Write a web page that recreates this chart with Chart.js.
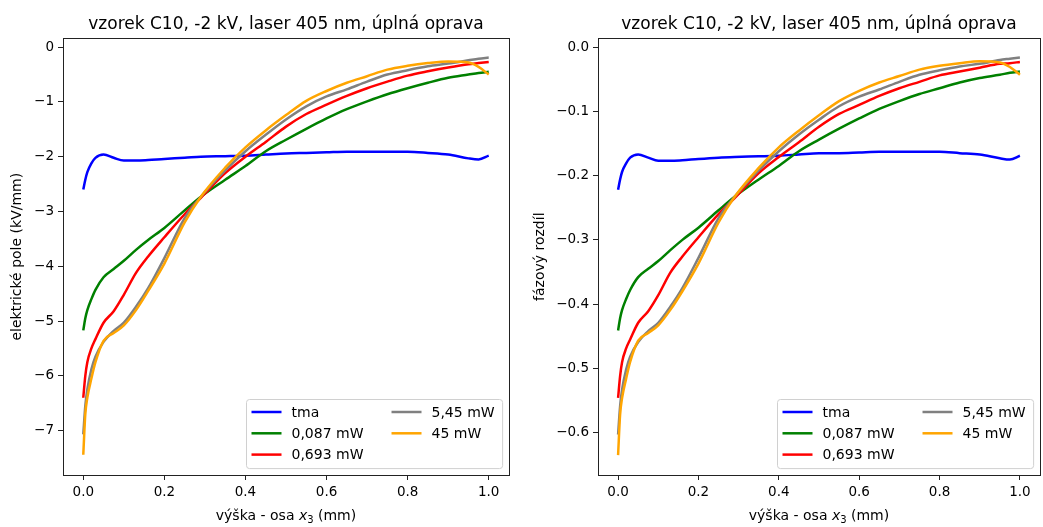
<!DOCTYPE html>
<html>
<head>
<meta charset="utf-8">
<script src="https://cdn.jsdelivr.net/npm/chart.js@4.4.0/dist/chart.umd.min.js"></script>
<style>
  html, body { margin: 0; padding: 0; background: #fff; }
  #wrap { position: relative; width: 1043px; height: 527px; overflow: hidden; }
  canvas { position: absolute; top: 0; }
  #poleChart { left: 0; }
  #fazeChart { left: 521px; }
</style>
</head>
<body>
<div id="wrap">
  <canvas id="poleChart" width="521" height="527"></canvas>
  <canvas id="fazeChart" width="522" height="527"></canvas>
</div>
<script>
// výška vzorku (mm)
const vyska = [0, 0.005, 0.01, 0.02, 0.03, 0.05, 0.075, 0.1, 0.13, 0.16, 0.2, 0.25, 0.29, 0.35,
               0.4, 0.45, 0.5, 0.55, 0.6, 0.65, 0.7, 0.75, 0.8, 0.85, 0.9, 0.95, 0.975, 1.0];

const popisky = ['tma', '0,087 mW', '0,693 mW', '5,45 mW', '45 mW'];
const barvy = ['#0000ff', '#008000', '#ff0000', '#808080', '#ffa500'];

// elektrické pole (kV/mm)
const poleTma = [-2.60, -2.42, -2.28, -2.12, -2.02, -1.96, -2.02, -2.07, -2.07, -2.06, -2.04, -2.02, -2.00, -1.99,
                 -1.98, -1.96, -1.94, -1.93, -1.92, -1.91, -1.91, -1.91, -1.91, -1.93, -1.96, -2.03, -2.05, -1.98];
const pole0087 = [-5.17, -4.95, -4.80, -4.60, -4.43, -4.20, -4.05, -3.90, -3.70, -3.52, -3.30, -2.98, -2.73, -2.42,
                  -2.17, -1.90, -1.69, -1.49, -1.30, -1.13, -0.99, -0.86, -0.75, -0.65, -0.56, -0.50, -0.47, -0.45];
const pole0693 = [-6.40, -6.00, -5.75, -5.50, -5.33, -5.03, -4.82, -4.52, -4.12, -3.82, -3.47, -3.05, -2.75, -2.30,
                  -2.00, -1.73, -1.45, -1.22, -1.05, -0.89, -0.75, -0.63, -0.52, -0.44, -0.37, -0.31, -0.29, -0.27];
const pole545 = [-7.07, -6.55, -6.25, -5.88, -5.65, -5.38, -5.18, -5.03, -4.74, -4.40, -3.85, -3.12, -2.73, -2.25,
                 -1.90, -1.60, -1.32, -1.08, -0.90, -0.77, -0.63, -0.50, -0.42, -0.35, -0.30, -0.24, -0.21, -0.19];
const pole45 = [-7.44, -6.70, -6.40, -6.05, -5.75, -5.36, -5.22, -5.08, -4.80, -4.45, -3.95, -3.20, -2.73, -2.20,
                -1.83, -1.52, -1.24, -0.98, -0.80, -0.65, -0.53, -0.41, -0.34, -0.29, -0.26, -0.28, -0.36, -0.50];

// fázový rozdíl
const fazeTma = [-0.222, -0.206, -0.194, -0.181, -0.172, -0.167, -0.172, -0.177, -0.177, -0.176, -0.174, -0.172, -0.171, -0.170,
                 -0.169, -0.167, -0.165, -0.165, -0.164, -0.163, -0.163, -0.163, -0.163, -0.165, -0.167, -0.173, -0.175, -0.169];
const faze0087 = [-0.441, -0.422, -0.409, -0.392, -0.378, -0.358, -0.345, -0.333, -0.316, -0.300, -0.281, -0.254, -0.233, -0.206,
                  -0.185, -0.162, -0.144, -0.127, -0.111, -0.096, -0.084, -0.073, -0.064, -0.055, -0.048, -0.043, -0.040, -0.038];
const faze0693 = [-0.546, -0.512, -0.490, -0.469, -0.455, -0.429, -0.411, -0.386, -0.351, -0.326, -0.296, -0.260, -0.235, -0.196,
                  -0.171, -0.148, -0.124, -0.104, -0.090, -0.076, -0.064, -0.054, -0.044, -0.038, -0.032, -0.026, -0.025, -0.023];
const faze545 = [-0.603, -0.559, -0.533, -0.502, -0.482, -0.459, -0.442, -0.429, -0.404, -0.375, -0.328, -0.266, -0.233, -0.192,
                 -0.162, -0.136, -0.113, -0.092, -0.077, -0.066, -0.054, -0.043, -0.036, -0.030, -0.026, -0.020, -0.018, -0.016];
const faze45 = [-0.635, -0.572, -0.546, -0.516, -0.490, -0.457, -0.445, -0.433, -0.409, -0.380, -0.337, -0.273, -0.233, -0.188,
                -0.156, -0.130, -0.106, -0.084, -0.068, -0.055, -0.045, -0.035, -0.029, -0.025, -0.022, -0.024, -0.031, -0.043];

const xTicks = [0, 0.2, 0.4, 0.6, 0.8, 1.0];
const poleTicks = [-7, -6, -5, -4, -3, -2, -1, 0];
const fazeTicks = [-0.6, -0.5, -0.4, -0.3, -0.2, -0.1, 0];

const nazev = 'vzorek C10, -2 kV, laser 405 nm, úplná oprava';
const FONT = 'DejaVu Sans';
const minus = s => s.replace('-', '\u2212');

// rámeček kolem celé plochy grafu
const ramecek = {
  id: 'ramecek',
  afterDraw(chart) {
    const { ctx, chartArea: a } = chart;
    ctx.save();
    ctx.strokeStyle = '#222';
    ctx.lineWidth = 1;
    ctx.strokeRect(Math.round(a.left) + 0.5, Math.round(a.top) + 0.5,
                   Math.round(a.right - a.left), Math.round(a.bottom - a.top));
    ctx.restore();
  }
};

// popisek osy x s kurzívou a dolním indexem
const popisekX = {
  id: 'popisekX',
  afterDraw(chart) {
    const { ctx, chartArea: a } = chart;
    const casti = [
      { t: 'výška - osa ', f: `14px "${FONT}"`, dy: 0 },
      { t: 'x', f: `italic 14px "${FONT}"`, dy: 0 },
      { t: '3', f: `10px "${FONT}"`, dy: 3 },
      { t: ' (mm)', f: `14px "${FONT}"`, dy: 0 }
    ];
    ctx.save();
    ctx.fillStyle = '#000';
    ctx.textBaseline = 'alphabetic';
    let w = 0;
    casti.forEach(c => { ctx.font = c.f; c.w = ctx.measureText(c.t).width; w += c.w; });
    let x = (a.left + a.right) / 2 - w / 2;
    casti.forEach(c => { ctx.font = c.f; ctx.fillText(c.t, x, 520 + c.dy); x += c.w; });
    ctx.restore();
  }
};

// legenda ve dvou sloupcích vpravo dole
const legenda = {
  id: 'legenda',
  afterDraw(chart) {
    const { ctx, chartArea: a } = chart;
    const sets = chart.data.datasets;
    const radku = 3;
    ctx.save();
    ctx.font = `14px "${FONT}"`;
    const sloupce = [sets.slice(0, radku), sets.slice(radku)];
    const sirky = sloupce.map(s => Math.max(...s.map(d => ctx.measureText(d.label).width)));
    const car = 30, mezera = 10, sloupMez = 28, padL = 5, padR = 8, radek = 21.3;
    const w = padL + car + mezera + sirky[0] + sloupMez + car + mezera + sirky[1] + padR;
    const h = 12.5 + radek * (radku - 1) + 14;
    const x0 = Math.round(a.right - 7 - w) + 0.5, y0 = Math.round(a.bottom - 7 - h) + 0.5;
    const r = 3;
    ctx.beginPath();
    ctx.moveTo(x0 + r, y0);
    ctx.arcTo(x0 + w, y0, x0 + w, y0 + h, r);
    ctx.arcTo(x0 + w, y0 + h, x0, y0 + h, r);
    ctx.arcTo(x0, y0 + h, x0, y0, r);
    ctx.arcTo(x0, y0, x0 + w, y0, r);
    ctx.closePath();
    ctx.fillStyle = 'rgba(255,255,255,0.8)';
    ctx.fill();
    ctx.strokeStyle = '#d0d0d0';
    ctx.lineWidth = 1;
    ctx.stroke();
    let cx = x0 + padL;
    sloupce.forEach((s, k) => {
      s.forEach((d, i) => {
        const y = y0 + 12.5 + i * radek;
        ctx.strokeStyle = d.borderColor;
        ctx.lineWidth = 2.5;
        ctx.beginPath();
        ctx.moveTo(cx, y);
        ctx.lineTo(cx + car, y);
        ctx.stroke();
        ctx.fillStyle = '#000';
        ctx.textBaseline = 'middle';
        ctx.fillText(d.label, cx + car + mezera, y + 1);
      });
      cx += car + mezera + sirky[k] + sloupMez;
    });
    ctx.restore();
  }
};

function graf(id, cfg) {
  return new Chart(document.getElementById(id), {
    type: 'line',
    data: {
      datasets: cfg.rady.map((rada, i) => ({
        label: popisky[i],
        data: vyska.map((x, j) => ({ x, y: rada[j] })),
        borderColor: barvy[i],
        backgroundColor: barvy[i],
        borderWidth: 2.5,
        pointRadius: 0,
        cubicInterpolationMode: 'monotone',
        fill: false,
        order: popisky.length - i
      }))
    },
    options: {
      responsive: false,
      animation: false,
      devicePixelRatio: 1,
      layout: { padding: { left: 0, right: cfg.padRight, top: 0, bottom: 0 } },
      plugins: {
        legend: { display: false },
        tooltip: { enabled: false },
        title: {
          display: true, text: nazev, fullSize: false, color: '#000',
          font: { family: FONT, size: 17, weight: 'normal' },
          padding: { top: 14, bottom: 4 }
        }
      },
      scales: {
        x: {
          type: 'linear', min: -0.05, max: 1.05,
          afterBuildTicks: s => { s.ticks = xTicks.map(v => ({ value: v })); },
          afterFit: s => { s.height = 52; },
          grid: { drawOnChartArea: false, drawTicks: true, tickLength: 5, color: '#222' },
          border: { display: false },
          ticks: {
            padding: 4, color: '#000', maxRotation: 0, autoSkip: false,
            font: { family: FONT, size: 13.5 },
            callback: v => v.toFixed(1)
          }
        },
        y: {
          type: 'linear', min: cfg.yMin, max: cfg.yMax,
          afterBuildTicks: s => { s.ticks = cfg.ticks.map(v => ({ value: v })); },
          afterFit: s => { s.width = cfg.yWidth; },
          grid: { drawOnChartArea: false, drawTicks: true, tickLength: 5, color: '#222' },
          border: { display: false },
          ticks: {
            padding: 4, color: '#000', autoSkip: false,
            font: { family: FONT, size: 13.5 },
            callback: v => minus(v.toFixed(cfg.digits))
          },
          title: {
            display: true, text: cfg.yTitle, color: '#000',
            font: { family: FONT, size: 14 },
            padding: { top: cfg.titlePad, bottom: 0 }
          }
        }
      }
    },
    plugins: [ramecek, popisekX, legenda]
  });
}

graf('poleChart', {
  rady: [poleTma, pole0087, pole0693, pole545, pole45],
  ticks: poleTicks, digits: 0,
  yMin: -7.81, yMax: 0.16,
  yWidth: 63, padRight: 12, titlePad: 9,
  yTitle: 'elektrické pole (kV/mm)'
});

graf('fazeChart', {
  rady: [fazeTma, faze0087, faze0693, faze545, faze45],
  ticks: fazeTicks, digits: 1,
  yMin: -0.666, yMax: 0.0136,
  yWidth: 77, padRight: 3, titlePad: 11,
  yTitle: 'fázový rozdíl'
});
</script>
</body>
</html>
